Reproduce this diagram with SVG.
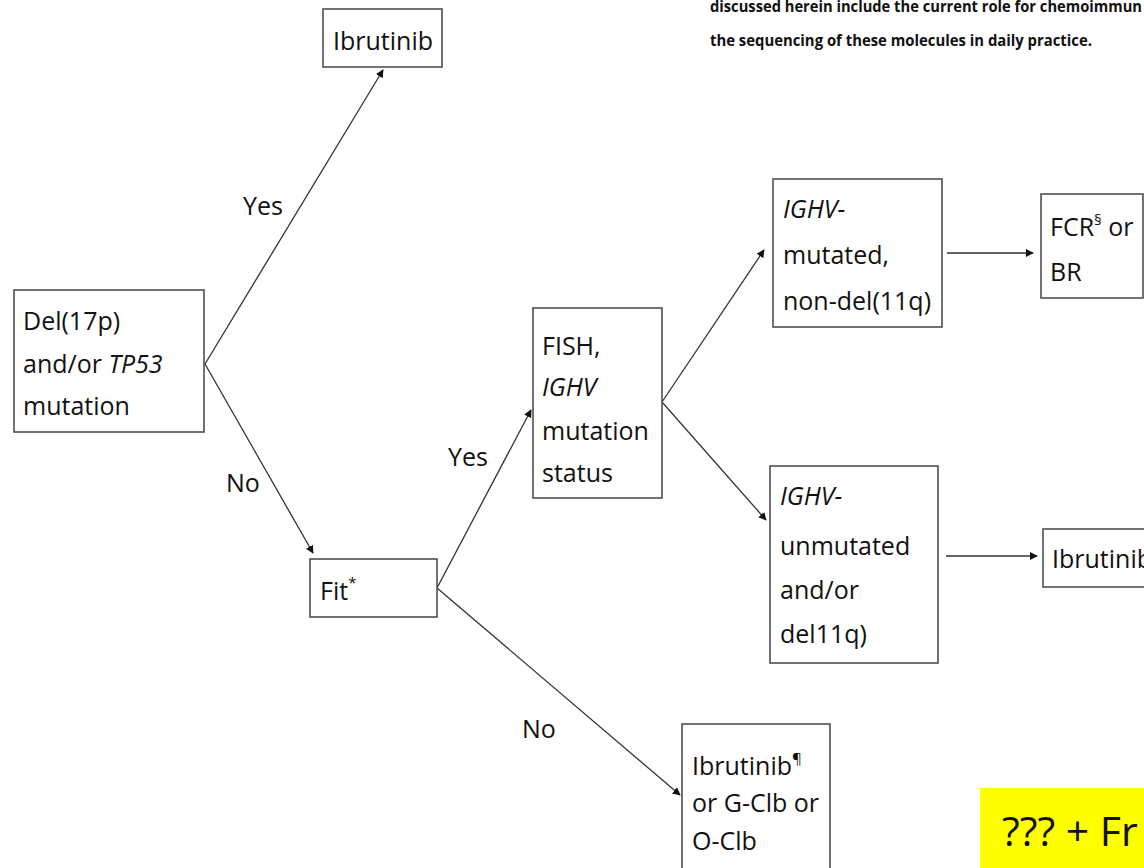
<svg xmlns="http://www.w3.org/2000/svg" width="1144" height="868" viewBox="0 0 1144 868">
<defs>
<style>
.box{fill:#fff;stroke:#505050;stroke-width:1.6}
.t{font-family:"Open Sans","Noto Sans",sans-serif;font-size:25px;fill:#111}
.lab{font-family:"Open Sans","Noto Sans",sans-serif;font-size:25px;fill:#111}
.i{font-style:italic}
.sup{font-size:15px}
.c{stroke:#333;stroke-width:1.3;fill:none;marker-end:url(#ah)}
.hd{font-family:"Open Sans","Noto Sans",sans-serif;font-size:16.5px;font-weight:bold;fill:#111}
</style>
<marker id="ah" viewBox="0 0 10 10" refX="9" refY="5" markerWidth="8" markerHeight="8" markerUnits="userSpaceOnUse" orient="auto">
<path d="M0,0 L10,5 L0,10 z" fill="#111"/>
</marker>
</defs>
<rect width="1144" height="868" fill="#fff"/>
<g id="header">
<text class="hd" x="710" y="12" textLength="432" lengthAdjust="spacingAndGlyphs">discussed herein include the current role for chemoimmun</text>
<text class="hd" x="710" y="46" textLength="382" lengthAdjust="spacingAndGlyphs">the sequencing of these molecules in daily practice.</text>
</g>
<g id="connectors">
<line class="c" x1="205" y1="364" x2="383" y2="70"/>
<line class="c" x1="205" y1="364" x2="313" y2="553"/>
<line class="c" x1="437" y1="588" x2="531" y2="410"/>
<line class="c" x1="437" y1="588" x2="680" y2="795"/>
<line class="c" x1="662" y1="402" x2="764" y2="250"/>
<line class="c" x1="662" y1="402" x2="766" y2="520"/>
<line class="c" x1="947" y1="253" x2="1033" y2="253"/>
<line class="c" x1="946" y1="556" x2="1037" y2="556"/>
<text class="lab" x="243" y="215">Yes</text>
<text class="lab" x="226" y="492">No</text>
<text class="lab" x="448" y="466">Yes</text>
<text class="lab" x="522" y="738">No</text>
</g>
<g id="ibrutinib-top">
<rect class="box" x="323" y="9" width="119" height="58"/>
<text class="t" x="333" y="50">Ibrutinib</text>
</g>
<g id="del17p">
<rect class="box" x="14" y="290" width="190" height="142"/>
<text class="t" x="23" y="330">Del(17p)</text>
<text class="t" x="23" y="373">and/or <tspan class="i">TP53</tspan></text>
<text class="t" x="23" y="415">mutation</text>
</g>
<g id="fit">
<rect class="box" x="310" y="559" width="127" height="58"/>
<text class="t" x="320" y="600">Fit<tspan class="sup" dy="-12">*</tspan></text>
</g>
<g id="fish">
<rect class="box" x="533" y="308" width="129" height="190"/>
<text class="t" x="542" y="355">FISH,</text>
<text class="t i" x="542" y="396">IGHV</text>
<text class="t" x="542" y="440">mutation</text>
<text class="t" x="542" y="482">status</text>
</g>
<g id="ighv-mutated">
<rect class="box" x="773" y="179" width="169" height="148"/>
<text class="t i" x="783" y="218">IGHV-</text>
<text class="t" x="783" y="264">mutated,</text>
<text class="t" x="783" y="310">non-del(11q)</text>
</g>
<g id="ighv-unmutated">
<rect class="box" x="770" y="466" width="168" height="197"/>
<text class="t i" x="780" y="505">IGHV-</text>
<text class="t" x="780" y="555">unmutated</text>
<text class="t" x="780" y="599">and/or</text>
<text class="t" x="780" y="643">del11q)</text>
</g>
<g id="fcr">
<rect class="box" x="1041" y="194" width="102" height="104"/>
<text class="t" x="1050" y="236">FCR<tspan class="sup" dy="-11">§</tspan><tspan dy="11"> or</tspan></text>
<text class="t" x="1050" y="281">BR</text>
</g>
<g id="ibrutinib-right">
<rect class="box" x="1043" y="529" width="120" height="58"/>
<text class="t" x="1052" y="568">Ibrutinib</text>
</g>
<g id="ibrutinib-fallback">
<rect class="box" x="682" y="724" width="148" height="160"/>
<text class="t" x="692" y="775">Ibrutinib<tspan class="sup" dy="-11">¶</tspan></text>
<text class="t" x="692" y="812">or G-Clb or</text>
<text class="t" x="692" y="850">O-Clb</text>
</g>
<g id="yellow-note">
<rect x="980" y="788" width="170" height="80" fill="#ffff00"/>
<text x="1002" y="846" font-family="Open Sans, Noto Sans, sans-serif" font-size="41" fill="#111">??? + Fr</text>
</g>
</svg>
